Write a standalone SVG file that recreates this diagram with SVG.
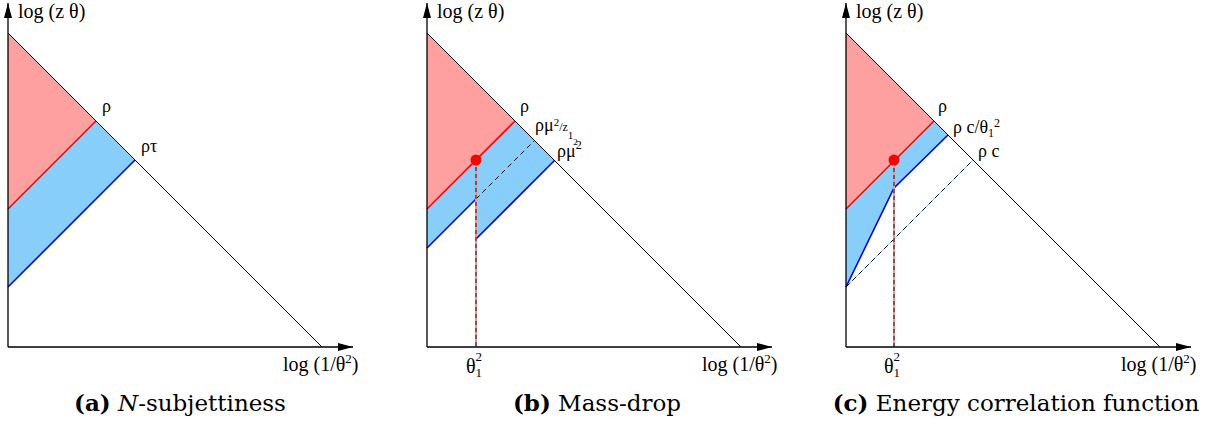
<svg xmlns="http://www.w3.org/2000/svg" width="1211" height="421" viewBox="0 0 1211 421">
<style>
.ax{stroke:#000;stroke-width:1.3;fill:none}
.diag{stroke:#000;stroke-width:1;fill:none}
.rf{fill:#ffa0a0;stroke:none}
.bf{fill:#87cefa;stroke:none}
.rl{stroke:#ff0000;stroke-width:1.6;fill:none}
.bl{stroke:#0000ff;stroke-width:1.6;fill:none}
.dsh{stroke:#000;stroke-width:1;stroke-dasharray:5,4;fill:none}
.lb{stroke:#87cefa;stroke-width:1;fill:none}
.vr{stroke:#ff8a8a;stroke-width:2;fill:none}
.vd{stroke:#333;stroke-width:1.2;stroke-dasharray:4,3;fill:none}
text{font-family:'Liberation Serif','Times New Roman',serif;fill:#000}
.t{font-size:18px}
.a{font-size:20px}
.s{font-size:12px}
.s13{font-size:13px}
.cap{font-family:'DejaVu Serif',serif;font-size:23px;text-anchor:middle}
</style>
<defs>
<marker id="ar" markerWidth="16" markerHeight="10" refX="15" refY="5" orient="auto" markerUnits="userSpaceOnUse">
<path d="M0,1 L15,5 L0,9 Z" fill="#000"/>
</marker>
</defs>

<g id="panel-a">
<polygon class="rf" points="8,33 96,121 8,209"/>
<polygon class="bf" points="8,209 96,121 135,160 8,287"/>
<line class="diag" x1="8" y1="33" x2="322" y2="347"/>
<line class="rl" x1="8" y1="209" x2="96" y2="121"/>
<line class="bl" x1="8" y1="287" x2="135" y2="160"/>
<line class="ax" x1="8" y1="347" x2="8" y2="3" marker-end="url(#ar)"/>
<line class="ax" x1="8" y1="347" x2="353" y2="347" marker-end="url(#ar)"/>
<text class="a" x="18" y="18">log (z θ)</text>
<text class="a" x="283" y="371">log (1/θ<tspan class="s13" dy="-8">2</tspan><tspan dy="8">)</tspan></text>
<text class="t" x="102" y="112">ρ</text>
<text class="t" x="141" y="152">ρτ</text>
<text class="cap" x="180" y="411"><tspan font-weight="bold">(a)</tspan> <tspan font-style="italic">N</tspan>-subjettiness</text>
</g>

<g id="panel-b">
<polygon class="rf" points="427,33 515,121 427,209"/>
<polygon class="bf" points="427,209 515,121 554.5,160.5 476,239 476,199 427,248"/>
<line class="diag" x1="427" y1="33" x2="741" y2="347"/>
<line class="rl" x1="427" y1="209" x2="515" y2="121"/>
<line class="bl" x1="427" y1="248" x2="476" y2="199"/>
<line class="bl" x1="476" y1="239" x2="554.5" y2="160.5"/>
<line class="dsh" x1="476" y1="199" x2="534.5" y2="140.5"/>
<line class="vr" x1="476" y1="160" x2="476" y2="347"/>
<line class="vd" x1="476" y1="160" x2="476" y2="347"/>
<circle cx="476" cy="160" r="5.5" fill="#ff0000"/>
<line class="ax" x1="427" y1="347" x2="427" y2="3" marker-end="url(#ar)"/>
<line class="ax" x1="427" y1="347" x2="772" y2="347" marker-end="url(#ar)"/>
<text class="a" x="437" y="18">log (z θ)</text>
<text class="a" x="702" y="371">log (1/θ<tspan class="s13" dy="-8">2</tspan><tspan dy="8">)</tspan></text>
<text class="a" x="466" y="373">θ<tspan class="s13" dy="4">1</tspan></text>
<text class="s13" x="475.5" y="361">2</text>
<text class="t" x="520" y="112">ρ</text>
<text class="t" x="535" y="131">ρμ<tspan font-size="11" dy="-5">2</tspan><tspan class="s" dy="5">/z</tspan><tspan font-size="11" dy="8">1</tspan><tspan font-size="9" dy="6">2</tspan></text>
<text class="t" x="557" y="157">ρμ<tspan class="s" dy="-8">2</tspan></text>
<text class="cap" x="597" y="411"><tspan font-weight="bold">(b)</tspan> Mass-drop</text>
</g>

<g id="panel-c">
<polygon class="rf" points="846,33 934,121 846,209"/>
<polygon class="bf" points="846,209 934,121 948,135 894,188 846,287"/>
<line class="diag" x1="846" y1="33" x2="1160" y2="347"/>
<line class="rl" x1="846" y1="209" x2="934" y2="121"/>
<line class="lb" x1="846" y1="287" x2="973" y2="160"/>
<line class="dsh" x1="846" y1="287" x2="973" y2="160"/>
<polyline class="bl" points="846,287 894,188 948,135"/>
<line class="vr" x1="894" y1="161" x2="894" y2="347"/>
<line class="vd" x1="894" y1="161" x2="894" y2="347"/>
<circle cx="894" cy="160" r="5.5" fill="#ff0000"/>
<line class="ax" x1="846" y1="347" x2="846" y2="3" marker-end="url(#ar)"/>
<line class="ax" x1="846" y1="347" x2="1191" y2="347" marker-end="url(#ar)"/>
<text class="a" x="856" y="18">log (z θ)</text>
<text class="a" x="1121" y="371">log (1/θ<tspan class="s13" dy="-8">2</tspan><tspan dy="8">)</tspan></text>
<text class="a" x="884" y="373">θ<tspan class="s13" dy="4">1</tspan></text>
<text class="s13" x="893.5" y="361">2</text>
<text class="t" x="938" y="112">ρ</text>
<text class="t" x="953" y="133">ρ c/θ<tspan class="s" dy="4">1</tspan></text>
<text class="s" x="994" y="127">2</text>
<text class="t" x="978" y="157">ρ c</text>
<text class="cap" x="1016" y="411"><tspan font-weight="bold">(c)</tspan> Energy correlation function</text>
</g>
</svg>
